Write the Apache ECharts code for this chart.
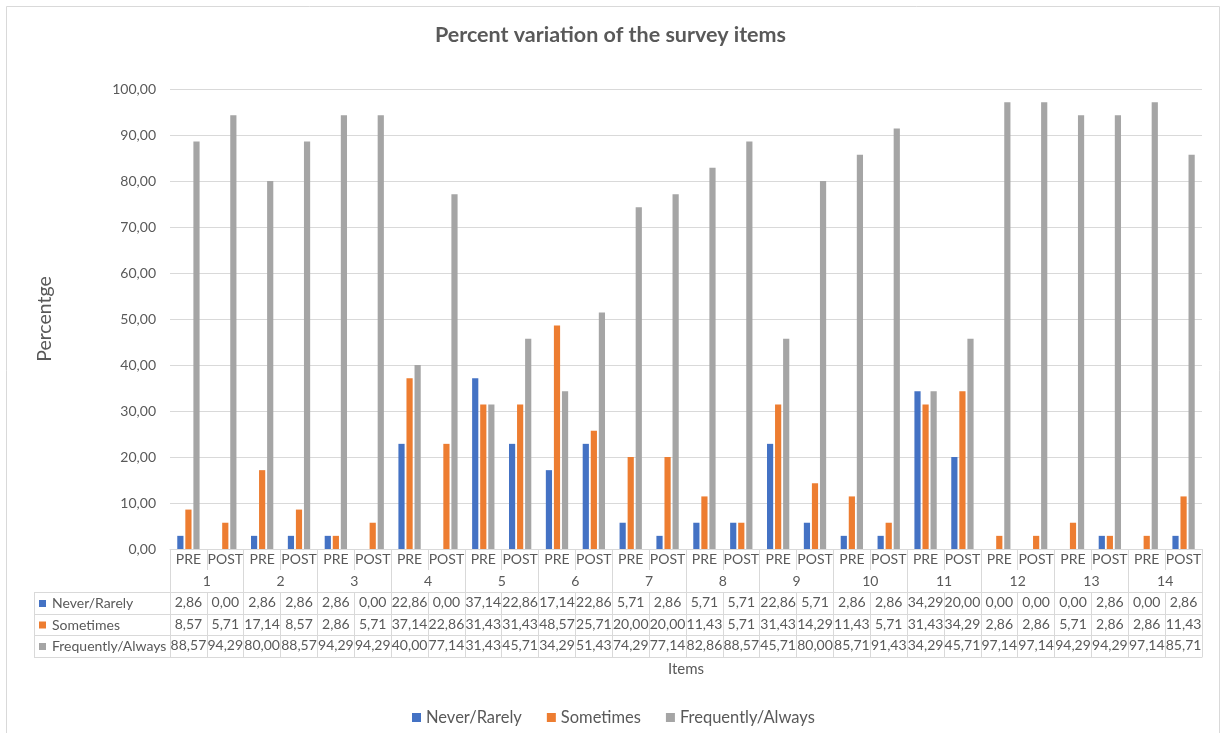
<!DOCTYPE html>
<html>
<head>
<meta charset="utf-8">
<title>Percent variation of the survey items</title>
<script src="https://cdn.jsdelivr.net/npm/echarts@6/dist/echarts.min.js"></script>
<style>
  html, body { margin: 0; padding: 0; background: #ffffff; }
  #chart { width: 1221px; height: 733px; }
</style>
</head>
<body>
<div id="chart"></div>
<script>
// ---- data ----
const phases = ['PRE', 'POST'];
const items = ['1', '2', '3', '4', '5', '6', '7', '8', '9', '10', '11', '12', '13', '14'];
const seriesNames = ['Never/Rarely', 'Sometimes', 'Frequently/Always'];
const neverRarely = [2.86, 0.00, 2.86, 2.86, 2.86, 0.00, 22.86, 0.00, 37.14, 22.86, 17.14, 22.86, 5.71, 2.86,
                     5.71, 5.71, 22.86, 5.71, 2.86, 2.86, 34.29, 20.00, 0.00, 0.00, 0.00, 2.86, 0.00, 2.86];
const sometimes = [8.57, 5.71, 17.14, 8.57, 2.86, 5.71, 37.14, 22.86, 31.43, 31.43, 48.57, 25.71, 20.00, 20.00,
                   11.43, 5.71, 31.43, 14.29, 11.43, 5.71, 31.43, 34.29, 2.86, 2.86, 5.71, 2.86, 2.86, 11.43];
const frequentlyAlways = [88.57, 94.29, 80.00, 88.57, 94.29, 94.29, 40.00, 77.14, 31.43, 45.71, 34.29, 51.43, 74.29, 77.14,
                          82.86, 88.57, 45.71, 80.00, 85.71, 91.43, 34.29, 45.71, 97.14, 97.14, 94.29, 94.29, 97.14, 85.71];

// ---- styling / layout ----
const colors = ['#4472C4', '#ED7D31', '#A5A5A5'];
const TEXT = '#595959';
const LINE = '#d9d9d9';
const FONT = 'Lato, "Noto Sans", sans-serif';
const W = 1221, H = 733;
const GRID_LEFT = 170, GRID_RIGHT = 19, GRID_TOP = 89, PLOT_BOTTOM = 549;
// row borders of the table under the plot (pixel offsets below the plot bottom)
const rowOffsets = [0, 21, 43, 65, 86, 108];
const TABLE_X0 = 34;

const seriesValues = [neverRarely, sometimes, frequentlyAlways];
const categories = items.flatMap(() => phases);
const fmt = v => v.toFixed(2).replace('.', ',');

const chart = echarts.init(document.getElementById('chart'), null, { renderer: 'canvas' });

const labelBase = { color: TEXT, fontFamily: FONT, fontSize: 14, interval: 0, margin: 3 };

// axis 0: PRE/POST row
const xAxes = [{
  type: 'category', gridIndex: 0, position: 'bottom', data: categories,
  axisLine: { show: true, lineStyle: { color: LINE, width: 1 } },
  axisTick: { show: true, interval: 0, length: rowOffsets[1], lineStyle: { color: LINE } },
  axisLabel: Object.assign({}, labelBase)
}, {
  // axis 1: item numbers
  type: 'category', gridIndex: 0, position: 'bottom', offset: rowOffsets[1], data: items,
  axisLine: { show: false },
  axisTick: { show: true, interval: 0, length: rowOffsets[2] - rowOffsets[1], lineStyle: { color: LINE } },
  axisLabel: Object.assign({}, labelBase, { margin: 4 })
}];

// axes 2..4: data table rows
seriesValues.forEach((vals, r) => {
  xAxes.push({
    type: 'category', gridIndex: 0, position: 'bottom', offset: rowOffsets[r + 2], data: categories,
    axisLine: { show: true, lineStyle: { color: LINE, width: 1 } },
    axisTick: { show: true, interval: 0, length: rowOffsets[r + 3] - rowOffsets[r + 2], lineStyle: { color: LINE } },
    axisLabel: Object.assign({}, labelBase, { formatter: (v, i) => fmt(vals[i]) })
  });
});

// axis 5: bottom border of the table plus the axis title
xAxes.push({
  type: 'category', gridIndex: 0, position: 'bottom', offset: rowOffsets[5], data: categories,
  name: 'Items', nameLocation: 'middle', nameGap: 5,
  nameTextStyle: { color: TEXT, fontFamily: FONT, fontSize: 15 },
  axisLine: { show: true, lineStyle: { color: LINE, width: 1 } },
  axisTick: { show: false }, axisLabel: { show: false }
});

// left column of the table: keys and series names
const graphics = [{
  type: 'rect', silent: true,
  shape: { x: 6.5, y: 6.5, width: 1213, height: 760 },
  style: { fill: null, stroke: LINE, lineWidth: 1 }
}];
for (let r = 2; r <= 5; r++) {
  const y = PLOT_BOTTOM + rowOffsets[r] + 0.5;
  graphics.push({ type: 'line', silent: true, shape: { x1: TABLE_X0, y1: y, x2: GRID_LEFT, y2: y },
                  style: { stroke: LINE, lineWidth: 1 } });
}
graphics.push({ type: 'line', silent: true,
  shape: { x1: TABLE_X0 + 0.5, y1: PLOT_BOTTOM + rowOffsets[2], x2: TABLE_X0 + 0.5, y2: PLOT_BOTTOM + rowOffsets[5] + 1 },
  style: { stroke: LINE, lineWidth: 1 } });
seriesNames.forEach((name, r) => {
  const mid = PLOT_BOTTOM + (rowOffsets[r + 2] + rowOffsets[r + 3]) / 2 + 0.5;
  graphics.push({ type: 'rect', silent: true, shape: { x: TABLE_X0 + 5, y: mid - 3.5, width: 7, height: 7 },
                  style: { fill: colors[r] } });
  graphics.push({ type: 'text', silent: true, x: TABLE_X0 + 18, y: mid,
                  style: { text: name, fill: TEXT, font: '14px ' + FONT, verticalAlign: 'middle', align: 'left' } });
});

const option = {
  backgroundColor: '#ffffff',
  color: colors,
  animation: false,
  title: {
    text: 'Percent variation of the survey items',
    left: 'center', top: 19,
    textStyle: { color: TEXT, fontFamily: FONT, fontSize: 21.5, fontWeight: 'bold' }
  },
  legend: {
    data: seriesNames, left: 407, top: 704,
    icon: 'rect', itemWidth: 9, itemHeight: 9, itemGap: 25,
    textStyle: { color: TEXT, fontFamily: FONT, fontSize: 16.5 }
  },
  grid: { left: GRID_LEFT, right: GRID_RIGHT, top: GRID_TOP, bottom: H - PLOT_BOTTOM, containLabel: false },
  xAxis: xAxes,
  yAxis: {
    type: 'value', min: 0, max: 100, interval: 10,
    name: 'Percentge', nameLocation: 'middle', nameGap: 115,
    nameTextStyle: { color: TEXT, fontFamily: FONT, fontSize: 19.5 },
    axisLine: { show: false }, axisTick: { show: false },
    axisLabel: { color: TEXT, fontFamily: FONT, fontSize: 14, margin: 14, formatter: v => fmt(v) },
    splitLine: { lineStyle: { color: LINE, width: 1 } }
  },
  graphic: graphics,
  series: seriesNames.map((name, r) => ({
    name, type: 'bar', xAxisIndex: 0, data: seriesValues[r],
    barWidth: 6.2, barGap: '30%',
    itemStyle: { color: colors[r] }
  }))
};

chart.setOption(option);
</script>
</body>
</html>
